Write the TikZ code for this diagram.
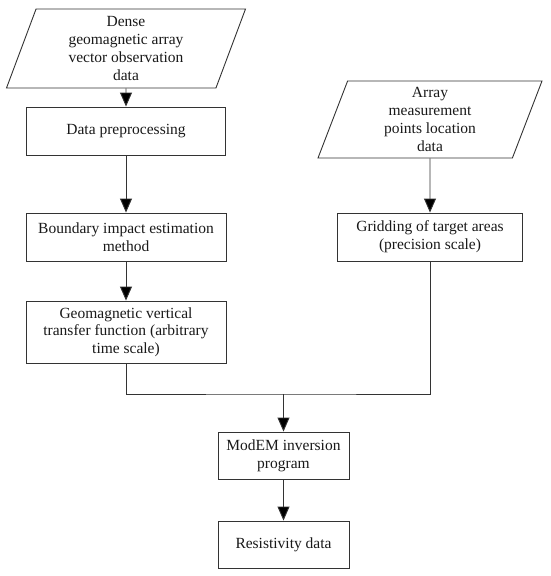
\documentclass[tikz,border=0pt]{standalone}
\usepackage{fontspec}
\setmainfont{Liberation Serif}
\usetikzlibrary{shapes.geometric,arrows.meta}
\begin{document}
\begin{tikzpicture}[x=1pt,y=-1pt,
  every node/.style={font=\fontsize{15.5}{17.7}\selectfont, align=center, inner sep=0pt, text=black!90},
  box/.style={draw=black!80, line width=0.9pt, rectangle},
  para/.style={draw=black!80, line width=0.9pt, trapezium, trapezium left angle=65, trapezium right angle=115, trapezium stretches body},
  arr/.style={draw=black!80, line width=0.9pt, -{Triangle[length=14pt,width=12pt,fill=black]}},
  ln/.style={draw=black!80, line width=0.9pt}]
\useasboundingbox (0,0) rectangle (550,576);
\node[para, minimum width=239, minimum height=79] (p1) at (126,48.5) {Dense\\geomagnetic array\\vector observation\\data};
\node[box, minimum width=199, minimum height=48] (dp) at (126,131) {Data preprocessing};
\node[box, minimum width=200, minimum height=48] (bi) at (126,237) {Boundary impact estimation\\method};
\node[box, minimum width=200, minimum height=62] (gv) at (126,332) {Geomagnetic vertical\\transfer function (arbitrary\\time scale)};
\node[para, minimum width=224, minimum height=77] (p2) at (430,119.5) {Array\\measurement\\points location\\data};
\node[box, minimum width=185, minimum height=48] (gr) at (430,237) {Gridding of target areas\\(precision scale)};
\node[box, minimum width=131, minimum height=47] (mo) at (283.5,455.5) {ModEM inversion\\program};
\node[box, minimum width=131, minimum height=47] (rs) at (283.5,544.5) {Resistivity data};
\coordinate (j) at (283.5,394);
\draw[arr] (p1) -- (dp);
\draw[arr] (dp) -- (bi);
\draw[arr] (bi) -- (gv);
\draw[arr] (p2) -- (gr);
\draw[ln] (gv.south) |- (j) -| (gr.south);
\draw[arr] (j) -- (mo);
\draw[arr] (mo) -- (rs);
\end{tikzpicture}
\end{document}
